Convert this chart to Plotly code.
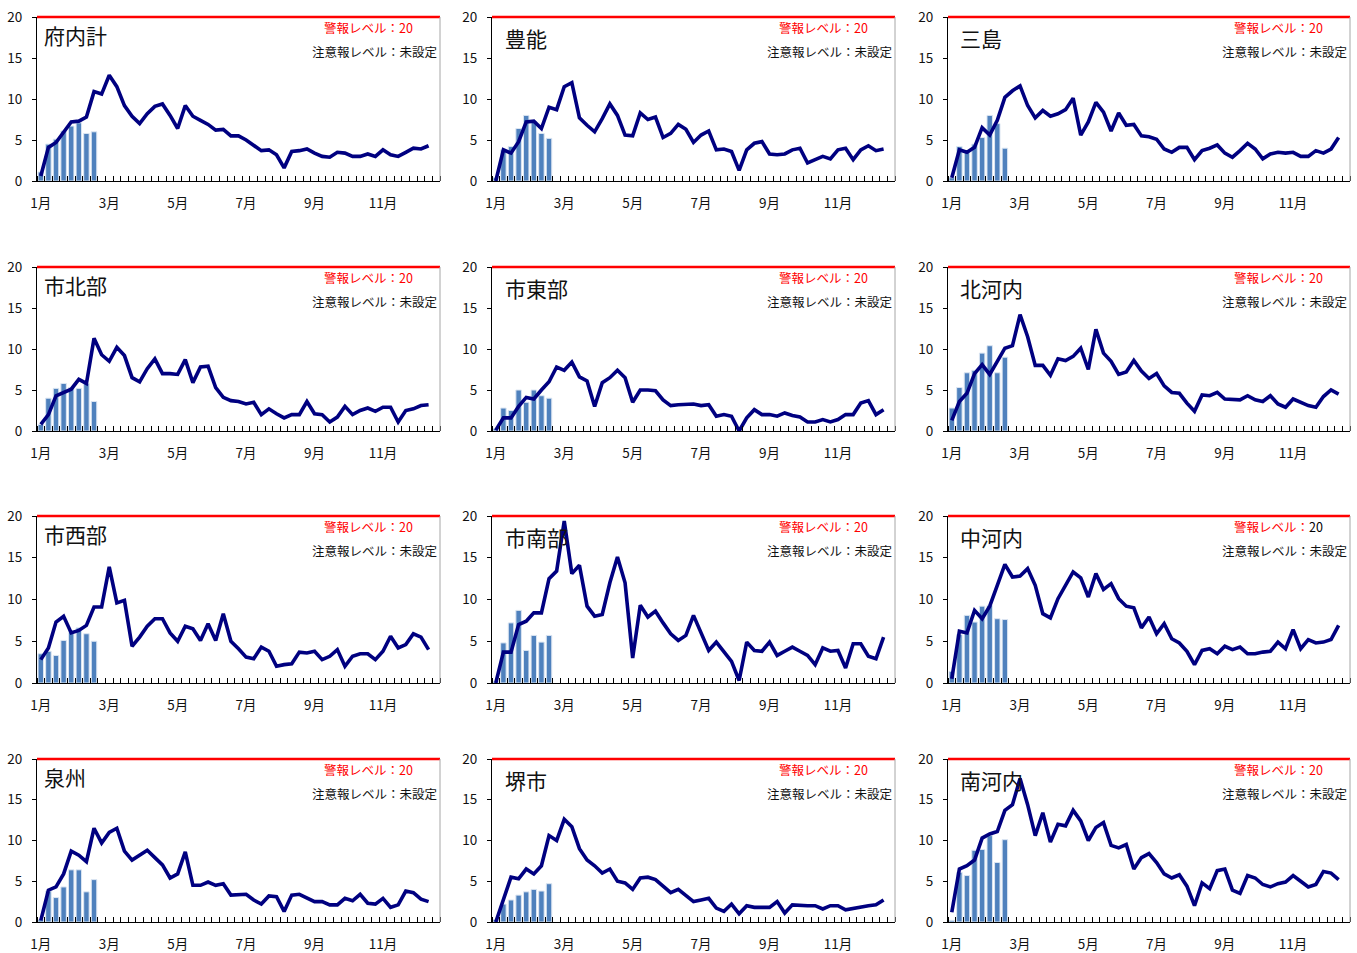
import plotly.graph_objects as go

weeks = list(range(1, 53))
bar_weeks = list(range(1, 9))
month_ticks = [1, 10, 19, 28, 37, 46]
month_labels = ["1月", "3月", "5月", "7月", "9月", "11月"]
y_ticks = [0, 5, 10, 15, 20]
y_max = 20
warning_level = 20
warn_label = "警報レベル："
caution_label = "注意報レベル：未設定"

regions = ["府内計", "豊能", "三島", "市北部", "市東部", "北河内",
           "市西部", "市南部", "中河内", "泉州", "堺市", "南河内"]

line_funai = [0.6, 4.1, 4.7, 6.0, 7.2, 7.3, 7.8, 10.9, 10.6, 12.9, 11.5, 9.2, 7.9, 7.0, 8.2, 9.1, 9.4, 8.0, 6.4, 9.2,
              7.9, 7.4, 6.9, 6.2, 6.3, 5.5, 5.5, 5.0, 4.4, 3.7, 3.8, 3.2, 1.6, 3.6, 3.7, 3.9, 3.4, 3.0, 2.9, 3.5,
              3.4, 3.0, 3.0, 3.3, 3.0, 3.8, 3.2, 3.0, 3.5, 4.0, 3.9, 4.3]
bars_funai = [1.1, 4.5, 5.1, 6.1, 6.7, 7.1, 5.8, 6.0]

line_toyono = [0.0, 3.8, 3.4, 4.8, 7.2, 7.3, 6.4, 9.0, 8.7, 11.5, 12.0, 7.7, 6.8, 6.0, 7.6, 9.4, 8.0, 5.6, 5.5, 8.3,
               7.5, 7.8, 5.3, 5.8, 6.9, 6.3, 4.7, 5.6, 6.1, 3.8, 3.9, 3.6, 1.3, 3.8, 4.6, 4.8, 3.3, 3.2, 3.3, 3.8,
               4.0, 2.2, 2.6, 3.0, 2.7, 3.8, 4.0, 2.6, 3.8, 4.3, 3.7, 3.9]
bars_toyono = [0.4, 3.8, 4.2, 6.4, 8.0, 7.3, 5.8, 5.2]

line_mishima = [0.4, 3.8, 3.5, 4.1, 6.5, 5.6, 7.4, 10.2, 11.0, 11.6, 9.2, 7.7, 8.6, 7.9, 8.2, 8.7, 10.1, 5.6, 7.2, 9.6,
                8.4, 6.1, 8.3, 6.8, 6.9, 5.5, 5.4, 5.1, 3.9, 3.5, 4.1, 4.1, 2.6, 3.7, 4.0, 4.4, 3.4, 2.9, 3.7, 4.6,
                3.9, 2.7, 3.3, 3.5, 3.4, 3.5, 3.0, 3.0, 3.7, 3.4, 3.9, 5.3]
bars_mishima = [0.4, 4.2, 3.7, 4.5, 5.3, 8.0, 7.0, 4.0]

line_shihokubu = [0.8, 2.0, 4.3, 4.7, 5.1, 6.3, 5.8, 11.3, 9.3, 8.5, 10.2, 9.2, 6.5, 6.0, 7.6, 8.8, 7.0, 7.0, 6.9, 8.7,
                  5.9, 7.8, 7.9, 5.3, 4.1, 3.7, 3.6, 3.3, 3.5, 2.0, 2.7, 2.1, 1.6, 2.0, 2.0, 3.6, 2.1, 2.0, 1.1, 1.7,
                  3.0, 2.0, 2.5, 2.8, 2.4, 2.9, 2.9, 1.1, 2.5, 2.7, 3.1, 3.2]
bars_shihokubu = [0.8, 4.0, 5.2, 5.8, 5.3, 5.2, 5.8, 3.6]

line_shitobu = [0.1, 1.6, 1.6, 3.0, 4.1, 3.9, 5.0, 6.0, 7.8, 7.4, 8.4, 6.6, 6.1, 3.0, 5.9, 6.5, 7.4, 6.5, 3.5, 5.0,
                5.0, 4.9, 3.8, 3.1, 3.2, 3.3, 3.3, 3.1, 3.2, 1.8, 2.0, 1.8, 0.0, 1.6, 2.6, 2.0, 2.0, 1.8, 2.2, 1.9,
                1.7, 1.1, 1.1, 1.4, 1.1, 1.4, 2.0, 2.0, 3.4, 3.7, 2.0, 2.6]
bars_shitobu = [0.3, 2.8, 2.5, 5.0, 3.5, 5.0, 4.3, 4.0]

line_kitakawachi = [1.3, 3.6, 4.6, 7.0, 8.1, 6.9, 8.5, 10.1, 10.4, 14.2, 11.5, 8.0, 8.0, 6.8, 8.8, 8.6, 9.1, 10.1, 7.5, 12.4,
                    9.5, 8.5, 6.9, 7.2, 8.6, 7.3, 6.4, 7.0, 5.5, 4.7, 4.6, 3.4, 2.4, 4.4, 4.3, 4.7, 3.9, 3.8, 3.8, 4.3,
                    3.8, 3.6, 4.3, 3.3, 2.9, 3.9, 3.5, 3.1, 2.9, 4.2, 5.0, 4.5]
bars_kitakawachi = [2.8, 5.3, 7.1, 7.4, 9.5, 10.4, 7.1, 9.0]

line_shiseibu = [2.8, 4.2, 7.3, 8.0, 6.0, 6.3, 6.9, 9.1, 9.1, 13.9, 9.6, 9.9, 4.4, 5.5, 6.8, 7.7, 7.7, 6.0, 5.0, 6.8,
                 6.5, 5.1, 7.1, 5.1, 8.3, 5.0, 4.1, 3.1, 2.9, 4.3, 3.8, 2.0, 2.2, 2.3, 3.7, 3.6, 3.8, 2.8, 3.2, 4.0,
                 2.0, 3.2, 3.5, 3.5, 2.8, 3.8, 5.6, 4.2, 4.6, 5.9, 5.5, 4.0]
bars_shiseibu = [3.5, 3.8, 3.3, 5.1, 6.3, 6.6, 5.9, 5.0]

line_shinanbu = [0.0, 3.7, 3.7, 7.0, 7.4, 8.4, 8.4, 12.5, 13.4, 19.4, 13.1, 14.1, 9.2, 8.0, 8.2, 12.0, 15.1, 12.0, 3.0, 9.3,
                 7.9, 8.6, 7.2, 5.9, 5.1, 5.7, 8.1, 6.1, 3.9, 4.9, 3.8, 2.6, 0.3, 4.9, 3.9, 3.8, 4.9, 3.3, 3.8, 4.3,
                 3.8, 3.3, 2.2, 4.2, 3.8, 3.9, 1.8, 4.7, 4.7, 3.2, 2.9, 5.5]
bars_shinanbu = [0.2, 4.8, 7.2, 8.7, 3.9, 5.7, 4.9, 5.7]

line_nakakawachi = [0.5, 6.2, 6.0, 8.7, 7.7, 9.2, 11.7, 14.2, 12.7, 12.8, 13.7, 11.7, 8.3, 7.8, 10.1, 11.7, 13.3, 12.6, 10.3, 13.1,
                    11.2, 11.9, 10.1, 9.2, 9.0, 6.6, 7.9, 5.9, 7.1, 5.3, 4.8, 3.8, 2.2, 3.9, 4.1, 3.5, 4.4, 4.0, 4.3, 3.5,
                    3.5, 3.7, 3.8, 4.9, 4.1, 6.4, 4.1, 5.2, 4.8, 4.9, 5.2, 6.9]
bars_nakakawachi = [1.4, 5.8, 8.1, 7.3, 9.2, 9.3, 7.7, 7.6]

line_senshu = [0.2, 3.9, 4.3, 5.9, 8.7, 8.2, 7.4, 11.5, 9.7, 11.0, 11.5, 8.7, 7.6, 8.2, 8.8, 7.9, 7.0, 5.4, 5.9, 8.6,
               4.5, 4.5, 4.9, 4.5, 4.7, 3.3, 3.4, 3.4, 2.7, 2.2, 3.2, 3.1, 1.3, 3.3, 3.4, 2.9, 2.5, 2.5, 2.1, 2.1,
               2.9, 2.6, 3.4, 2.3, 2.2, 2.9, 1.8, 2.1, 3.8, 3.6, 2.8, 2.5]
bars_senshu = [0.3, 3.8, 3.0, 4.3, 6.4, 6.4, 3.7, 5.2]

line_sakai = [0.0, 2.7, 5.5, 5.3, 6.5, 5.9, 6.9, 10.6, 10.0, 12.6, 11.7, 9.0, 7.6, 6.9, 6.0, 6.5, 5.0, 4.8, 4.0, 5.4,
              5.5, 5.2, 4.4, 3.6, 4.0, 3.2, 2.5, 2.7, 2.9, 1.7, 1.3, 2.2, 1.0, 2.0, 1.8, 1.8, 1.8, 2.5, 1.1, 2.1,
              2.0, 2.0, 2.0, 1.6, 2.0, 2.0, 1.5, 1.7, 1.8, 2.0, 2.1, 2.7]
bars_sakai = [0.3, 2.2, 2.7, 3.3, 3.7, 4.0, 3.8, 4.7]

line_minamikawachi = [1.2, 6.5, 6.9, 7.6, 10.3, 10.8, 11.1, 13.7, 14.4, 17.6, 14.4, 10.6, 13.4, 9.8, 12.0, 11.8, 13.7, 12.4, 10.0, 11.6,
                      12.2, 9.4, 9.1, 9.5, 6.5, 7.9, 8.4, 7.3, 5.9, 5.4, 5.8, 4.4, 2.0, 4.8, 4.1, 6.3, 6.5, 3.9, 3.5, 5.7,
                      5.4, 4.6, 4.3, 4.7, 4.9, 5.7, 5.0, 4.3, 4.6, 6.2, 6.0, 5.2]
bars_minamikawachi = [0.2, 6.1, 5.7, 8.8, 8.9, 10.6, 7.3, 10.1]

lines = [line_funai, line_toyono, line_mishima, line_shihokubu, line_shitobu, line_kitakawachi,
         line_shiseibu, line_shinanbu, line_nakakawachi, line_senshu, line_sakai, line_minamikawachi]
bars = [bars_funai, bars_toyono, bars_mishima, bars_shihokubu, bars_shitobu, bars_kitakawachi,
        bars_shiseibu, bars_shinanbu, bars_nakakawachi, bars_senshu, bars_sakai, bars_minamikawachi]
# colour of the number "20" in each warning label
warn_number_colors = ["red", "red", "red", "red", "red", "red",
                      "red", "red", "black", "red", "red", "red"]

# ---------------- layout ----------------
W, H = 1357, 953
FONT = "Noto Sans CJK JP"
col_px = [(37, 440), (492, 895), (948, 1350)]
row_px = [(17, 181), (267, 431), (516, 683), (759, 922)]
title_dx = [5, 11, 10]
title_dy = [18, 21, 21]

fig = go.Figure()
layout = dict(
    template="none",
    width=W, height=H, margin=dict(l=0, r=0, t=0, b=0, autoexpand=False),
    paper_bgcolor="white", plot_bgcolor="white", showlegend=False,
    font=dict(family=FONT, size=13, color="#111111"),
    shapes=[], annotations=[],
)

for k, name in enumerate(regions):
    r, c = divmod(k, 3)
    sfx = "" if k == 0 else str(k + 1)
    xa, ya = "x" + sfx, "y" + sfx
    fig.add_trace(go.Bar(
        x=bar_weeks, y=bars[k], xaxis=xa, yaxis=ya, width=0.72,
        marker=dict(color="#4F81BD", line=dict(color="#DCE6F2", width=1)),
        hoverinfo="skip"))
    fig.add_trace(go.Scatter(
        x=weeks, y=lines[k], xaxis=xa, yaxis=ya, mode="lines",
        line=dict(color="#000080", width=3.6), hoverinfo="skip"))

    x0, x1 = col_px[c]
    y0, y1 = row_px[r]
    xd = [x0 / W, x1 / W]
    yd = [1 - y1 / H, 1 - y0 / H]
    layout["xaxis" + sfx] = dict(
        domain=xd, anchor=ya, range=[0.5, 53.5], automargin=False,
        tickmode="array", tickvals=month_ticks, ticktext=month_labels,
        ticks="", showgrid=False, zeroline=False,
        showline=True, linecolor="black", linewidth=1,
        tickfont=dict(family=FONT, size=13.5, color="#111111"),
        ticklabelstandoff=10,
        minor=dict(tickmode="array", tickvals=[w + 0.5 for w in range(0, 54)],
                   ticks="inside", ticklen=5, tickcolor="black", tickwidth=1,
                   showgrid=False),
    )
    layout["yaxis" + sfx] = dict(
        domain=yd, anchor=xa, range=[0, y_max], automargin=False,
        tickmode="array", tickvals=y_ticks, ticks="outside", ticklen=4,
        tickcolor="black", showgrid=False, zeroline=False,
        showline=True, linecolor="black", linewidth=1,
        tickfont=dict(family=FONT, size=13.5, color="#111111"),
        ticklabelstandoff=7,
    )
    # warning level line (paper coords from the axis scale so it is not clipped)
    y_warn = yd[0] + (yd[1] - yd[0]) * warning_level / y_max
    layout["shapes"].append(dict(
        type="line", xref="paper", x0=xd[0], x1=xd[1], yref="paper",
        y0=y_warn, y1=y_warn, line=dict(color="#FF0000", width=2.5)))
    # right border of the plot area
    layout["shapes"].append(dict(
        type="line", xref="paper", x0=xd[1], x1=xd[1], yref="paper",
        y0=yd[0], y1=yd[1], line=dict(color="#A6A6A6", width=1)))
    # texts
    layout["annotations"].append(dict(
        text=name, xref=xa + " domain", yref=ya + " domain", x=0, y=1,
        xanchor="left", yanchor="middle", xshift=title_dx[c], yshift=-title_dy[c],
        showarrow=False, font=dict(family=FONT, size=21, color="#111111")))
    layout["annotations"].append(dict(
        text=warn_label + "<span style='color:%s'>%d</span>" % (warn_number_colors[k], warning_level),
        xref=xa + " domain", yref=ya + " domain", x=1, y=1,
        xanchor="right", yanchor="middle", xshift=-25, yshift=-10,
        showarrow=False, font=dict(family=FONT, size=12.5, color="red")))
    layout["annotations"].append(dict(
        text=caution_label, xref=xa + " domain", yref=ya + " domain", x=1, y=1,
        xanchor="right", yanchor="middle", xshift=-1, yshift=-34,
        showarrow=False, font=dict(family=FONT, size=12.5, color="#111111")))

fig.update_layout(**layout)
fig.write_html("out.html", config={"displayModeBar": False},
               post_script="document.body.style.margin='0';document.body.style.overflow='hidden';")
